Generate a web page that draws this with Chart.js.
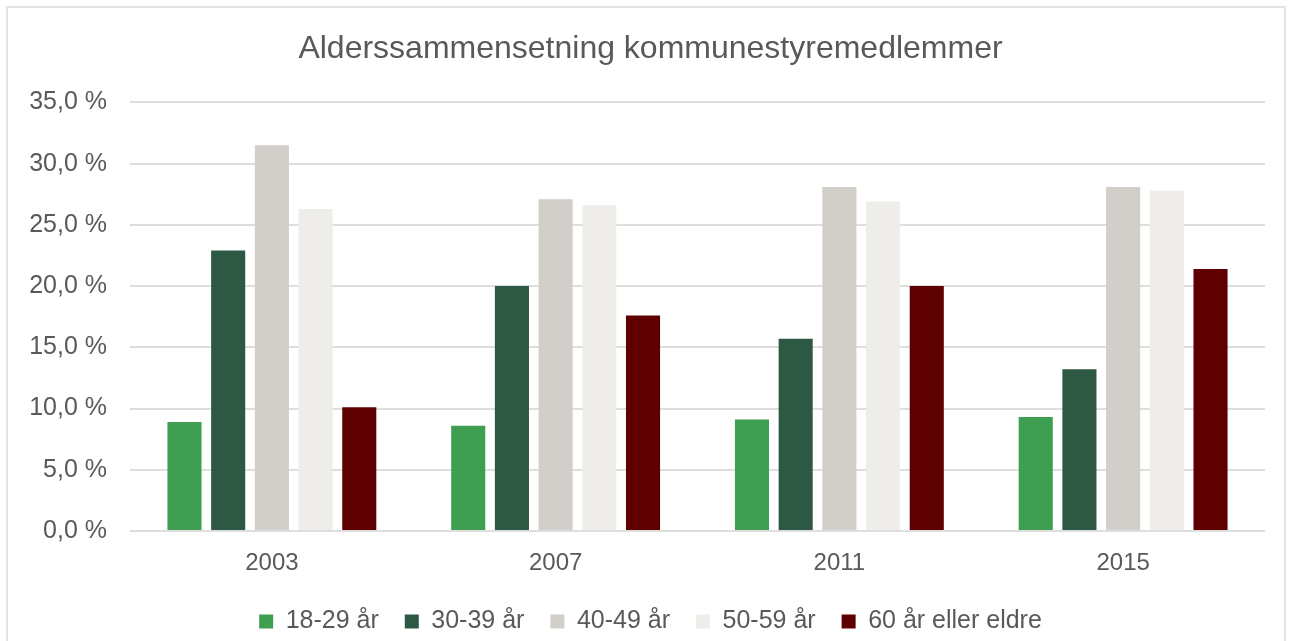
<!DOCTYPE html>
<html>
<head>
<meta charset="utf-8">
<script src="https://cdn.jsdelivr.net/npm/chart.js@4"></script>
<style>
  body { margin: 0; background: #fff; overflow: hidden; }
  #frame { position: absolute; left: 6px; top: 6px; width: 1276px; height: 680px; border: 2px solid #e3e3e3; }
  #wrap { position: absolute; left: 0; top: 0; width: 1294px; height: 644px; }
</style>
</head>
<body>
<div id="frame"></div>
<div id="wrap"><canvas id="chart"></canvas></div>
<script>
// år (valg)
const years = ['2003', '2007', '2011', '2015'];
const groups = ['18-29 år', '30-39 år', '40-49 år', '50-59 år', '60 år eller eldre'];

// andel kommunestyremedlemmer i prosent
const age18to29 = [8.9, 8.6, 9.1, 9.3];
const age30to39 = [22.9, 20.0, 15.7, 13.2];
const age40to49 = [31.5, 27.1, 28.1, 28.1];
const age50to59 = [26.3, 26.6, 26.9, 27.8];
const age60plus = [10.1, 17.6, 20.0, 21.4];

const colors = ['#3e9e52', '#2d5843', '#d2cec9', '#efedea', '#5e0000'];
const series = [age18to29, age30to39, age40to49, age50to59, age60plus];

Chart.defaults.font.family = '"Liberation Sans", Arial, sans-serif';
Chart.defaults.color = '#595959';

// let the y tick labels use the space left of the layout padding (labels are clipped to the scale box)
const widenYLabels = {
    id: 'widenYLabels',
    afterLayout(chart) { chart.scales.y.left = 0; }
};

new Chart(document.getElementById('chart').getContext('2d'), {
    type: 'bar',
    data: {
        labels: years,
        datasets: series.map((values, i) => ({
            label: groups[i],
            data: values,
            backgroundColor: colors[i],
            borderWidth: 0,
            categoryPercentage: 0.77,
            barPercentage: 0.78
        }))
    },
    options: {
        responsive: true,
        maintainAspectRatio: false,
        animation: false,
        layout: { padding: { left: 36, right: 29, top: 0, bottom: 0 } },
        plugins: {
            title: {
                display: true,
                text: 'Alderssammensetning kommunestyremedlemmer',
                font: { size: 32, weight: 'normal' },
                color: '#595959',
                padding: { top: 30, bottom: 34 }
            },
            legend: {
                position: 'bottom',
                labels: {
                    boxWidth: 14,
                    boxHeight: 14,
                    font: { size: 25 },
                    color: '#595959',
                    padding: 26
                }
            },
            tooltip: { enabled: false }
        },
        scales: {
            x: {
                grid: { display: false, drawTicks: false },
                border: { display: false },
                ticks: { font: { size: 24 }, padding: 18 },
                afterFit: scale => { scale.height = 52; }
            },
            y: {
                min: 0,
                max: 35,
                ticks: {
                    stepSize: 5,
                    font: { size: 25 },
                    padding: 23,
                    callback: v => v.toFixed(1).replace('.', ',') + ' %'
                },
                grid: { color: '#dedede', lineWidth: 2, drawTicks: false },
                border: { display: false },
                afterFit: scale => { scale.width = 94; }
            }
        }
    },
    plugins: [widenYLabels]
});
</script>
</body>
</html>
